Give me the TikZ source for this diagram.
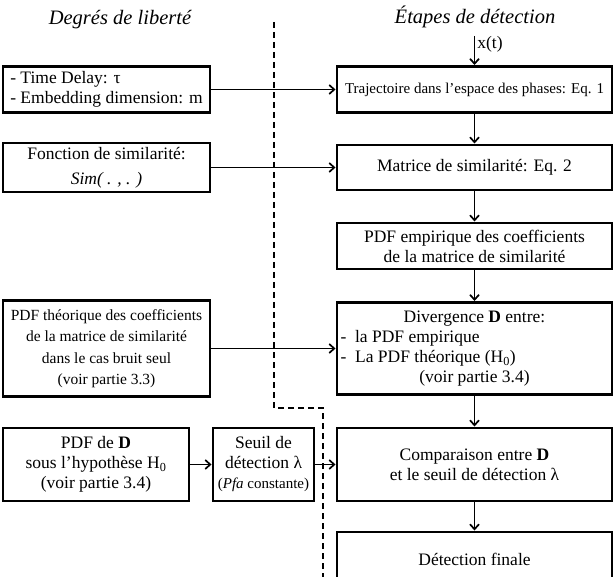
\documentclass[tikz,border=0pt]{standalone}
\usepackage{fontspec}
\setmainfont{Liberation Serif}
\usetikzlibrary{arrows,arrows.meta}

\begin{document}
\begin{tikzpicture}[x=1pt, y=-1pt, >={Straight Barb[length=5pt,width=9pt]},
    box/.style={draw, line width=1.05mm, inner sep=0pt, align=center, font=\fontsize{17.5}{20}\selectfont},
    link/.style={line width=0.6mm, ->},
    title/.style={anchor=base, font=\fontsize{20.5}{24}\selectfont\itshape}]
\useasboundingbox (0,0) rectangle (613,577);

% titres des deux colonnes
\node[title] (ddl) at (120,25) {Degrés de liberté};
\node[title] (etapes) at (475,24) {Étapes de détection};

% colonne de gauche
\node[box, minimum width=207, minimum height=46, align=left] (delay) at (106.5,89.5) {- Time Delay: τ\\- Embedding dimension: m};
\node[box, minimum width=207, minimum height=49] (simfn) at (106.5,167.5) {Fonction de similarité:\\[5pt]\textit{Sim( . , . )}};
\node[box, minimum width=207, minimum height=96, font=\fontsize{15.5}{21.5}\selectfont] (theo) at (106.5,348.5) {PDF théorique des coefficients\\de la matrice de similarité\\dans le cas bruit seul\\(voir partie 3.3)};
\node[box, minimum width=186, minimum height=73] (pdfD) at (96,464.5) {PDF de \textbf{D}\\sous l’hypothèse H\textsubscript{0}\\(voir partie 3.4)};
\node[box, minimum width=101, minimum height=73] (seuil) at (263.5,464.5) {Seuil de\\détection λ\\{\fontsize{15}{20}\selectfont(\textit{Pfa} constante)}};

% colonne de droite
\node[box, minimum width=275, minimum height=46, font=\fontsize{15}{20}\selectfont] (traj) at (474.5,89.5) {Trajectoire dans l’espace des phases: Eq. 1};
\node[box, minimum width=275, minimum height=45] (mat) at (474.5,167.5) {Matrice de similarité: Eq. 2};
\node[box, minimum width=275, minimum height=46] (emp) at (474.5,246) {PDF empirique des coefficients\\de la matrice de similarité};
\node[box, minimum width=275, minimum height=92] (div) at (474.5,348.5) {Divergence \textbf{D} entre:\\
    \makebox[268pt][l]{-\enspace la PDF empirique}\\
    \makebox[268pt][l]{-\enspace La PDF théorique (H\textsubscript{0})}\\
    (voir partie 3.4)};
\node[box, minimum width=275, minimum height=73] (comp) at (474.5,464.5) {Comparaison entre \textbf{D}\\et le seuil de détection λ};
\node[box, minimum width=275, minimum height=54] (fin) at (474.5,559) {Détection finale};

% separation
\draw[line width=0.6mm, dash pattern=on 6pt off 4pt] (274,22) -- (274,408) -- (323,408) -- (323,577);

% liaisons
\coordinate (xin) at (474.5,36);
\draw[link] (xin) -- (traj) node[pos=0.3, right, inner sep=2pt, font=\fontsize{17.5}{20}\selectfont] (xlbl) {x(t)};
\draw[link] (delay) -- (traj);
\draw[link] (simfn) -- (mat);
\draw[link] (theo) -- (div);
\draw[link] (pdfD) -- (seuil);
\draw[link] (seuil) -- (comp);
\draw[link] (traj) -- (mat);
\draw[link] (mat) -- (emp);
\draw[link] (emp) -- (div);
\draw[link] (div) -- (comp);
\draw[link] (comp) -- (fin);
\end{tikzpicture}
\end{document}
